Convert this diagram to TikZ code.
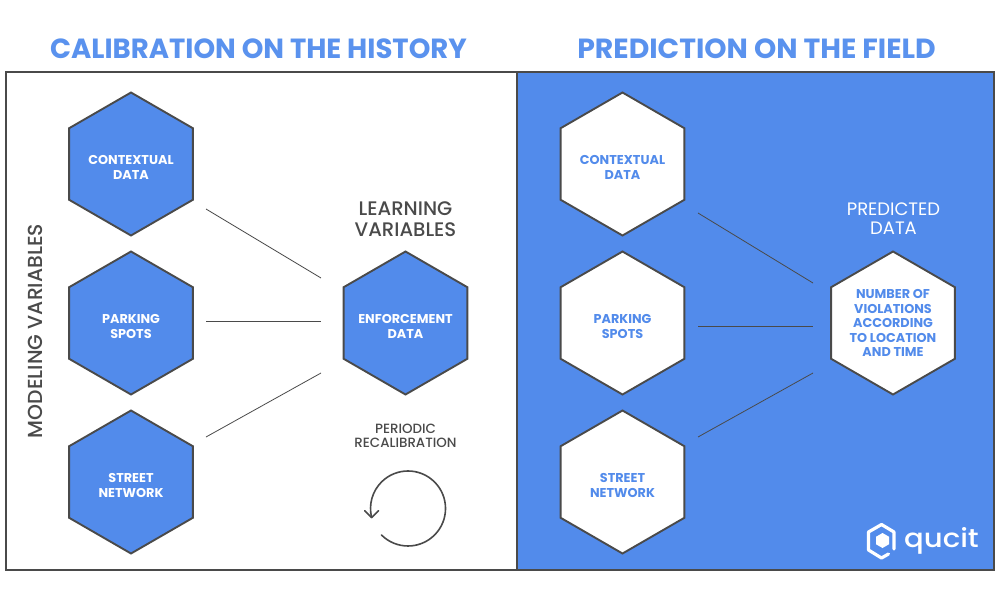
\documentclass[tikz,border=0pt]{standalone}
\usepackage{fontspec}
\setmainfont{Poppins}
\newfontfamily\pmed{Poppins}[UprightFont=* Medium]
\usetikzlibrary{shapes.geometric,arrows.meta}
\definecolor{qblue}{HTML}{528BEB}
\definecolor{qtitle}{HTML}{5A92EE}
\definecolor{qgray}{HTML}{4A4A4A}
\tikzset{
  x=1pt,y=-1pt,
  hexbase/.style={regular polygon,regular polygon sides=6,shape border rotate=30,minimum size=143pt,inner sep=0pt,draw=qgray,line width=1.9pt},
  hexblue/.style={hexbase,fill=qblue},
  hexwhite/.style={hexbase,fill=white},
  hextext/.style={align=center,inner sep=0pt,font=\fontsize{12.8}{14.5}\selectfont\bfseries},
  maintitle/.style={text=qtitle,font=\fontsize{27.7}{30}\selectfont\bfseries,inner sep=0pt},
  link/.style={draw=qgray,line width=0.8pt},
  caption/.style={text=qgray,align=center,inner sep=0pt},
}
\begin{document}
\begin{tikzpicture}
\useasboundingbox (0,0) rectangle (1000,595);
\fill[white] (0,0) rectangle (1000,595);
\node[draw=qgray,line width=2pt,minimum width=511pt,minimum height=498pt,inner sep=0pt] (leftpanel) at (261.5,321) {};
\node[draw=qgray,fill=qblue,line width=2pt,minimum width=477pt,minimum height=498pt,inner sep=0pt] (rightpanel) at (755.5,321) {};
\node[maintitle,xscale=0.995] (t1) at (258.5,49) {CALIBRATION ON THE HISTORY};
\node[maintitle,xscale=1.023] (t2) at (756.5,49) {PREDICTION ON THE FIELD};
\node[hexblue,label={[hextext,text=white,yshift=-3.5pt]center:CONTEXTUAL\\DATA}] (a1) at (131,164) {};
\node[hexblue,label={[hextext,text=white,yshift=-3.5pt]center:PARKING\\SPOTS}] (a2) at (131,323) {};
\node[hexblue,label={[hextext,text=white,yshift=-3.5pt]center:STREET\\NETWORK}] (a3) at (131,482) {};
\node[hexblue,label={[hextext,text=white,yshift=-3.5pt]center:ENFORCEMENT\\DATA}] (e) at (405.5,323) {};
\node[hexwhite,label={[hextext,text=qblue,yshift=-3.5pt]center:CONTEXTUAL\\DATA}] (b1) at (622.5,164) {};
\node[hexwhite,label={[hextext,text=qblue,yshift=-3.5pt]center:PARKING\\SPOTS}] (b2) at (622.5,323) {};
\node[hexwhite,label={[hextext,text=qblue,yshift=-3.5pt]center:STREET\\NETWORK}] (b3) at (622.5,482) {};
\node[hexwhite,label={[hextext,text=qblue]center:NUMBER OF\\VIOLATIONS\\ACCORDING\\TO LOCATION\\AND TIME}] (p) at (893,323) {};
\draw[link] ([shift={(75,45)}]a1.center) -- ([shift={(-84.5,-45)}]e.center);
\draw[link] ([shift={(75,-2)}]a2.center) -- ([shift={(-84.5,-2)}]e.center);
\draw[link] ([shift={(75,-45)}]a3.center) -- ([shift={(-84.5,50)}]e.center);
\draw[link] ([shift={(75.5,49)}]b1.center) -- ([shift={(-80,-40)}]p.center);
\draw[link] ([shift={(75.5,3)}]b2.center) -- ([shift={(-80,3)}]p.center);
\draw[link] ([shift={(75.5,-45)}]b3.center) -- ([shift={(-80,50)}]p.center);
\node[caption,rotate=90,font=\fontsize{20.3}{22}\selectfont\pmed] (mv) at (35,331) {MODELING VARIABLES};
\node[caption,font=\fontsize{19.6}{21}\selectfont\pmed] (lv) at (405.5,219) {LEARNING\\VARIABLES};
\node[caption,font=\fontsize{13.4}{14.5}\selectfont\pmed] (pr) at (405.5,436) {PERIODIC\\RECALIBRATION};
\node[caption,text=white,font=\fontsize{18}{19.5}\selectfont] (pd) at (893.5,218.5) {PREDICTED\\DATA};
\coordinate (loopstart) at (381.5,535);
\draw[qgray,line width=1.6pt,line cap=round] (loopstart) arc[start angle=135,end angle=-194,radius=37.5] coordinate (loopend);
\draw[qgray,line width=1.6pt,line cap=round,line join=round] ([shift={(-7,-7)}]loopend) -- (loopend) -- ([shift={(7,-7)}]loopend);
% logo
\draw[white,line width=3.2pt,line join=round,line cap=round] (888.5,554) -- (881.5,558) -- (868.5,550) -- (868.5,532) -- (881.5,524.5) -- (894,532) -- (894,549);
\node[regular polygon,regular polygon sides=6,shape border rotate=30,fill=white,minimum size=15pt,inner sep=0pt] (logohex) at (882.5,540.5) {};
\node[text=white,inner sep=0pt,font=\fontsize{26}{26}\selectfont\pmed,anchor=base,xscale=1.12] (logotext) at (941.5,547) {qucit};
\end{tikzpicture}
\end{document}
